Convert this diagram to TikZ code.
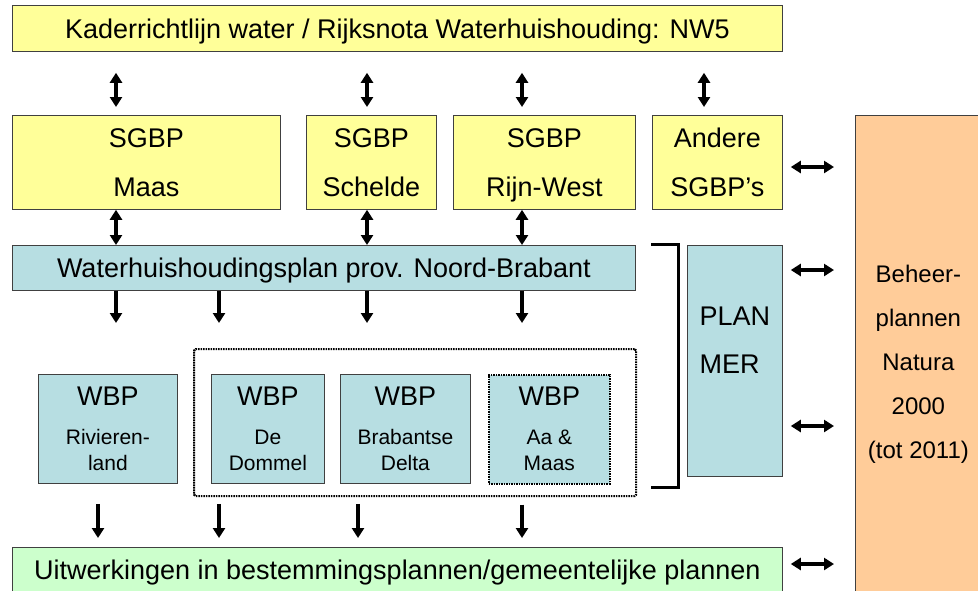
\documentclass[tikz,border=0pt]{standalone}
\usepackage{fontspec}
\setmainfont{Liberation Sans}
\usetikzlibrary{arrows.meta,positioning}

\definecolor{krwgeel}{HTML}{FFFF99}
\definecolor{whpblauw}{HTML}{B7DEE2}
\definecolor{bpgroen}{HTML}{CCFFCC}
\definecolor{natoranje}{HTML}{FFCC99}

\tikzset{
  vak/.style={draw=black!75, line width=0.8pt, anchor=north west, inner sep=0pt,
    align=center, font=\fontsize{27}{49}\selectfont},
  geel/.style={vak, fill=krwgeel},
  blauw/.style={vak, fill=whpblauw},
  groen/.style={vak, fill=bpgroen},
  oranje/.style={vak, fill=natoranje},
  balk/.style={text height=19.3pt, text depth=0pt},
  wbp/.style={blauw, minimum height=109pt, font=\fontsize{27}{26}\selectfont},
  stip/.style={draw=black, dash pattern=on 1.6pt off 0.9pt},
  pijl/.style={line width=3.6pt, -{Triangle[width=12pt,length=10pt]}},
  dubbel/.style={line width=3.6pt, {Triangle[width=12pt,length=10pt]}-{Triangle[width=12pt,length=10pt]}},
}
\newcommand{\wbpklein}{\fontsize{21}{26}\selectfont}

\begin{document}
\begin{tikzpicture}[x=1pt, y=-1pt]
  \useasboundingbox (0,0) rectangle (978,590);
  % columns and rows
  \coordinate (kmaas) at (116,0);
  \coordinate (kdommel) at (219,0);
  \coordinate (kschelde) at (367,0);
  \coordinate (krijn) at (522,0);
  \coordinate (kandere) at (704,0);
  \coordinate (kriv) at (98,0);
  \coordinate (kbrab) at (358,0);
  \coordinate (r1) at (0,167);
  \coordinate (r2) at (0,270);
  \coordinate (r3) at (0,426);
  \coordinate (r4) at (0,564);
  % boxes
  \node[geel, balk, minimum width=770pt, minimum height=46pt] (kader) at (12,5)
    {Kaderrichtlijn water / Rijksnota Waterhuishouding: NW5};
  \node[geel, minimum width=268pt, minimum height=94pt] (maas) at (12,115) {SGBP\\Maas};
  \node[geel, minimum width=130pt, minimum height=94pt] (schelde) at (306,115) {SGBP\\Schelde};
  \node[geel, minimum width=182pt, minimum height=94pt] (rijnwest) at (453,115)
    {SGBP\\\raisebox{0pt}[\height][0pt]{Rijn-West}};
  \node[geel, minimum width=130pt, minimum height=94pt] (andere) at (652,115) {Andere\\SGBP’s};
  \node[blauw, balk, minimum width=623pt, minimum height=45pt] (whplan) at (12,245)
    {Waterhuishoudingsplan prov. Noord-Brabant};
  \node[blauw, minimum width=95pt, minimum height=231pt] (planmer) at (687,245) {};
  \node[inner sep=0pt, align=left, font=\fontsize{27}{48}\selectfont, below=62pt of planmer.north]
    (planmertxt) {PLAN\\MER};
  \node[oranje, minimum width=126pt, minimum height=497pt, font=\fontsize{24}{44}\selectfont]
    (natura) at (855,115) {Beheer-\\plannen\\Natura\\2000\\(tot 2011)};
  \node[stip, line width=2.2pt, rounded corners=1.5pt, anchor=north west, minimum width=442pt,
    minimum height=147pt] (wbpgroep) at (193,348) {};
  \node[wbp, minimum width=139pt] (rivieren) at (38,374) {WBP\\[13pt]\wbpklein Rivieren-\\\wbpklein land};
  \node[wbp, minimum width=113pt] (dommel) at (211,374) {WBP\\[13pt]\wbpklein De\\\wbpklein Dommel};
  \node[wbp, minimum width=130pt] (brabant) at (340,374) {WBP\\[13pt]\wbpklein Brabantse\\\wbpklein Delta};
  \node[wbp, stip, line width=1.6pt, minimum width=121pt] (aamaas) at (488,374)
    {WBP\\[13pt]\wbpklein Aa \&\\\wbpklein Maas};
  \node[groen, balk, minimum width=770pt, minimum height=45pt] (uitwerking) at (12,547)
    {Uitwerkingen in bestemmingsplannen/gemeentelijke plannen};
  % bracket
  \draw[line width=3pt] (651,244) -| (678,487) -- (651,487);
  % arrows
  \draw[dubbel, shorten <=21pt, shorten >=8pt] (kader.south -| kmaas) -- (maas.north -| kmaas);
  \draw[dubbel, shorten <=21pt, shorten >=8pt] (kader.south -| kschelde) -- (schelde.north -| kschelde);
  \draw[dubbel, shorten <=21pt, shorten >=8pt] (kader.south -| krijn) -- (rijnwest.north -| krijn);
  \draw[dubbel, shorten <=21pt, shorten >=8pt] (kader.south -| kandere) -- (andere.north -| kandere);
  \draw[dubbel] (maas.south -| kmaas) -- (whplan.north -| kmaas);
  \draw[dubbel] (schelde.south -| kschelde) -- (whplan.north -| kschelde);
  \draw[dubbel] (rijnwest.south -| krijn) -- (whplan.north -| krijn);
  \draw[pijl, shorten >=51pt] (whplan.south -| kmaas) -- (rivieren.north -| kmaas);
  \draw[pijl, shorten >=51pt] (whplan.south -| kdommel) -- (dommel.north -| kdommel);
  \draw[pijl, shorten >=51pt] (whplan.south -| kschelde) -- (brabant.north -| kschelde);
  \draw[pijl, shorten >=51pt] (whplan.south -| krijn) -- (aamaas.north -| krijn);
  \draw[pijl, shorten <=20pt, shorten >=9pt] (rivieren.south -| kriv) -- (uitwerking.north -| kriv);
  \draw[pijl, shorten <=20pt, shorten >=9pt] (dommel.south -| kdommel) -- (uitwerking.north -| kdommel);
  \draw[pijl, shorten <=20pt, shorten >=9pt] (brabant.south -| kbrab) -- (uitwerking.north -| kbrab);
  \draw[pijl, shorten <=20pt, shorten >=9pt] (aamaas.south -| krijn) -- (uitwerking.north -| krijn);
  \draw[dubbel, shorten <=8pt, shorten >=21pt] (andere.east |- r1) -- (natura.west |- r1);
  \draw[dubbel, shorten <=8pt, shorten >=21pt] (planmer.east |- r2) -- (natura.west |- r2);
  \draw[dubbel, shorten <=8pt, shorten >=21pt] (planmer.east |- r3) -- (natura.west |- r3);
  \draw[dubbel, shorten <=8pt, shorten >=21pt] (uitwerking.east |- r4) -- (natura.west |- r4);
\end{tikzpicture}
\end{document}
